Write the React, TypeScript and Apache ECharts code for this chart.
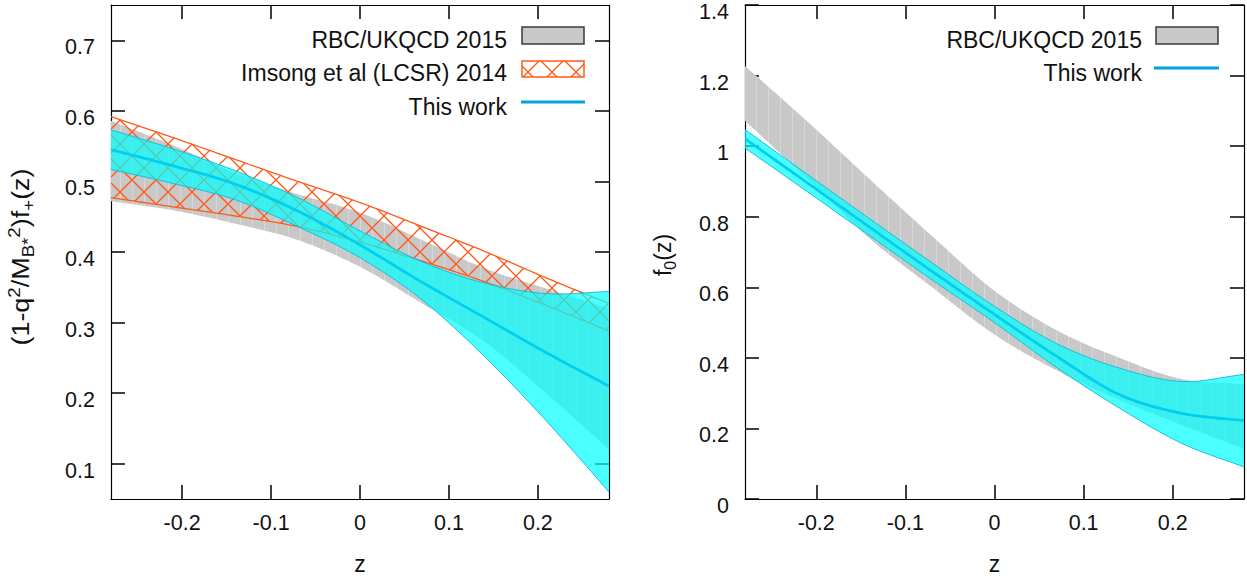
import React, { useEffect, useRef } from 'react';
import * as echarts from 'echarts';

// ---- data ----
const Z = [-0.28, -0.21, -0.14, -0.07, 0, 0.07, 0.14, 0.21, 0.28];

// Left panel: (1-q^2/M_B*^2) f+(z)
const L_RBC_LO = [0.472, 0.459, 0.44, 0.417, 0.379, 0.327, 0.273, 0.199, 0.12];
const L_RBC_HI = [0.586, 0.551, 0.512, 0.482, 0.456, 0.417, 0.377, 0.348, 0.32];
const L_LCSR_LO = [0.477, 0.464, 0.451, 0.436, 0.414, 0.387, 0.358, 0.324, 0.288];
const L_LCSR_HI = [0.592, 0.562, 0.531, 0.5, 0.47, 0.436, 0.401, 0.363, 0.327];
const L_TW_LO = [0.517, 0.497, 0.474, 0.436, 0.392, 0.332, 0.252, 0.16, 0.06];
const L_TW_MID = [0.545, 0.522, 0.496, 0.458, 0.41, 0.357, 0.307, 0.257, 0.21];
const L_TW_HI = [0.573, 0.546, 0.515, 0.477, 0.43, 0.386, 0.356, 0.341, 0.344];

// Right panel: f0(z)
const R_RBC_LO = [1.072, 0.907, 0.738, 0.6, 0.466, 0.364, 0.281, 0.21, 0.142];
const R_RBC_HI = [1.227, 1.07, 0.906, 0.745, 0.59, 0.478, 0.4, 0.34, 0.325];
const R_TW_LO = [0.995, 0.871, 0.746, 0.621, 0.5, 0.372, 0.258, 0.158, 0.091];
const R_TW_MID = [1.021, 0.896, 0.77, 0.645, 0.523, 0.404, 0.296, 0.243, 0.222];
const R_TW_HI = [1.047, 0.92, 0.794, 0.669, 0.546, 0.44, 0.371, 0.333, 0.353];

const X_TICKS = [-0.2, -0.1, 0, 0.1, 0.2];
const L_Y_TICKS = [0.1, 0.2, 0.3, 0.4, 0.5, 0.6, 0.7];
const R_Y_TICKS = [0, 0.2, 0.4, 0.6, 0.8, 1, 1.2, 1.4];

const LEGEND_RBC = 'RBC/UKQCD 2015';
const LEGEND_LCSR = 'Imsong et al (LCSR) 2014';
const LEGEND_TW = 'This work';

// ---- styles ----
const FONT = '"Liberation Sans", Arial, Helvetica, sans-serif';
const GRAY = '#C8C8C8';
const ORANGE = '#FF5A1A';
const CYAN_FILL = 'rgba(0,255,255,0.7)';
const CYAN_EDGE = '#14BEDF';
const CYAN_LINE = '#00D0F0';
const LEGEND_LINE = '#00A2DA';
const TEXT = '#111';

function makeHatch(size: number, color: string): string {
  const c = document.createElement('canvas');
  c.width = size;
  c.height = size;
  const ctx = c.getContext('2d')!;
  ctx.strokeStyle = color;
  ctx.lineWidth = 1.3;
  for (const k of [-size, 0, size]) {
    ctx.beginPath();
    ctx.moveTo(k, 0);
    ctx.lineTo(k + size, size);
    ctx.stroke();
    ctx.beginPath();
    ctx.moveTo(k + size, 0);
    ctx.lineTo(k, size);
    ctx.stroke();
  }
  return c.toDataURL();
}

function makeStripes(w: number, base: string, stripe: string): string {
  const c = document.createElement('canvas');
  c.width = w;
  c.height = 4;
  const ctx = c.getContext('2d')!;
  ctx.fillStyle = base;
  ctx.fillRect(0, 0, w, 4);
  ctx.fillStyle = stripe;
  ctx.fillRect(0, 0, 1, 4);
  return c.toDataURL();
}

// Smooth curve through pixel points (cubic Hermite with Catmull-Rom tangents), for drawing only.
function smoothPath(pts: number[][], steps = 14): number[][] {
  const n = pts.length;
  if (n < 3) return pts;
  const t: number[] = [];
  for (let i = 0; i < n; i++) {
    const a = pts[Math.max(0, i - 1)];
    const b = pts[Math.min(n - 1, i + 1)];
    t.push((b[1] - a[1]) / (b[0] - a[0]));
  }
  const out: number[][] = [];
  for (let i = 0; i < n - 1; i++) {
    const [x0, y0] = pts[i];
    const [x1, y1] = pts[i + 1];
    const h = x1 - x0;
    for (let s = 0; s < steps; s++) {
      const u = s / steps;
      const u2 = u * u;
      const u3 = u2 * u;
      const h00 = 2 * u3 - 3 * u2 + 1;
      const h10 = u3 - 2 * u2 + u;
      const h01 = -2 * u3 + 3 * u2;
      const h11 = u3 - u2;
      out.push([x0 + u * h, h00 * y0 + h10 * h * t[i] + h01 * y1 + h11 * h * t[i + 1]]);
    }
  }
  out.push(pts[n - 1]);
  return out;
}

function buildOption() {
  const HATCH = 24;
  const hatch = {
    image: makeHatch(HATCH, ORANGE),
    repeat: 'repeat',
    imageWidth: HATCH,
    imageHeight: HATCH,
  };
  const STRIPE = 12;
  const grayFill = {
    image: makeStripes(STRIPE, GRAY, '#D7D7D7'),
    repeat: 'repeat',
    imageWidth: STRIPE,
    imageHeight: 4,
  };

  function band(
    id: string,
    gi: number,
    lo: number[],
    hi: number[],
    fill: any,
    z: number,
    edge?: { color: string; width: number }
  ) {
    return {
      id,
      type: 'custom',
      coordinateSystem: 'cartesian2d',
      xAxisIndex: gi * 2,
      yAxisIndex: gi * 2,
      z,
      silent: true,
      clip: true,
      animation: false,
      encode: { x: 0, y: [1, 2] },
      data: Z.map((x, i) => [x, lo[i], hi[i]]),
      renderItem: (params: any, api: any) => {
        if (params.dataIndexInside !== 0) return null;
        const n = params.dataInsideLength;
        const top: number[][] = [];
        const bot: number[][] = [];
        for (let i = 0; i < n; i++) {
          const x = api.value(0, i);
          top.push(api.coord([x, api.value(2, i)]));
          bot.push(api.coord([x, api.value(1, i)]));
        }
        const st = smoothPath(top);
        const sb = smoothPath(bot);
        const poly = st.concat(sb.slice().reverse());
        const children: any[] = [
          { type: 'polygon', shape: { points: poly }, style: { fill, stroke: null } },
        ];
        if (edge) {
          children.push({
            type: 'polyline',
            shape: { points: st },
            style: { fill: null, stroke: edge.color, lineWidth: edge.width },
          });
          children.push({
            type: 'polyline',
            shape: { points: sb },
            style: { fill: null, stroke: edge.color, lineWidth: edge.width },
          });
        }
        return { type: 'group', children };
      },
    };
  }

  function midLine(id: string, gi: number, mid: number[]) {
    return {
      id,
      type: 'custom',
      coordinateSystem: 'cartesian2d',
      xAxisIndex: gi * 2,
      yAxisIndex: gi * 2,
      z: 6,
      silent: true,
      clip: true,
      animation: false,
      encode: { x: 0, y: 1 },
      data: Z.map((x, i) => [x, mid[i]]),
      renderItem: (params: any, api: any) => {
        if (params.dataIndexInside !== 0) return null;
        const n = params.dataInsideLength;
        const pts: number[][] = [];
        for (let i = 0; i < n; i++) pts.push(api.coord([api.value(0, i), api.value(1, i)]));
        return {
          type: 'polyline',
          shape: { points: smoothPath(pts) },
          style: { fill: null, stroke: CYAN_LINE, lineWidth: 2.8 },
        };
      },
    };
  }

  const tickStyle = { color: '#000', width: 1.5 };
  const lineStyle = { color: '#000', width: 1.2 };
  const labelBase = { fontSize: 21.5, fontFamily: FONT, color: TEXT };

  function xAxes(gi: number) {
    const base = {
      gridIndex: gi,
      type: 'value',
      min: -0.28,
      max: 0.28,
      splitLine: { show: false },
      axisLine: { show: true, onZero: false, lineStyle },
      axisTick: { show: true, inside: true, length: 14, customValues: X_TICKS, lineStyle: tickStyle },
    };
    return [
      {
        ...base,
        position: 'bottom',
        axisLabel: {
          ...labelBase,
          customValues: X_TICKS,
          margin: 13,
          formatter: (v: number) => String(v),
        },
        name: 'z',
        nameLocation: 'middle',
        nameGap: 53,
        nameTextStyle: { fontSize: 23, fontFamily: FONT, color: TEXT },
      },
      {
        ...base,
        position: 'top',
        axisLabel: { show: false },
      },
    ];
  }

  function yAxes(gi: number, min: number, max: number, ticks: number[]) {
    const base = {
      gridIndex: gi,
      type: 'value',
      min,
      max,
      splitLine: { show: false },
      axisLine: { show: true, onZero: false, lineStyle },
      axisTick: { show: true, inside: true, length: 14, customValues: ticks, lineStyle: tickStyle },
    };
    return [
      {
        ...base,
        position: 'left',
        axisLabel: {
          ...labelBase,
          customValues: ticks,
          margin: 16,
          verticalAlign: 'top',
          lineHeight: 14,
          formatter: (v: number) => String(v),
        },
      },
      {
        ...base,
        position: 'right',
        axisLabel: { show: false },
      },
    ];
  }

  const legendText = (x: number, y: number, text: string) => ({
    type: 'text',
    x,
    y,
    silent: true,
    style: {
      text,
      align: 'right',
      verticalAlign: 'middle',
      fontSize: 23,
      fontFamily: FONT,
      fill: TEXT,
    },
  });

  const graphic: any[] = [
    legendText(507, 40, LEGEND_RBC),
    {
      type: 'rect',
      silent: true,
      shape: { x: 522, y: 27, width: 62, height: 17 },
      style: { fill: GRAY, stroke: '#3a3a3a', lineWidth: 1.5 },
    },
    legendText(507, 73, LEGEND_LCSR),
    {
      type: 'rect',
      silent: true,
      shape: { x: 522, y: 61, width: 62, height: 16 },
      style: { fill: hatch, stroke: ORANGE, lineWidth: 1.5 },
    },
    legendText(507, 107, LEGEND_TW),
    {
      type: 'line',
      silent: true,
      shape: { x1: 521, y1: 102, x2: 585, y2: 102 },
      style: { stroke: LEGEND_LINE, lineWidth: 3 },
    },
    legendText(1142, 40, LEGEND_RBC),
    {
      type: 'rect',
      silent: true,
      shape: { x: 1156, y: 27, width: 62, height: 17 },
      style: { fill: GRAY, stroke: '#3a3a3a', lineWidth: 1.5 },
    },
    legendText(1142, 73, LEGEND_TW),
    {
      type: 'line',
      silent: true,
      shape: { x1: 1154, y1: 68, x2: 1219, y2: 68 },
      style: { stroke: LEGEND_LINE, lineWidth: 3 },
    },
    {
      type: 'text',
      x: 21,
      y: 257,
      rotation: Math.PI / 2,
      scaleX: 1.17,
      silent: true,
      style: {
        text: '{n|(1-q}{sp|2}{n|/M}{sb|B*}{sp|2}{n|)f}{sb|+}{n|(z)}',
        align: 'center',
        verticalAlign: 'middle',
        fill: TEXT,
        rich: {
          n: { fontSize: 23, fontFamily: FONT, fill: TEXT, lineHeight: 30, verticalAlign: 'middle' },
          sp: { fontSize: 16, fontFamily: FONT, fill: TEXT, verticalAlign: 'top' },
          sb: { fontSize: 16, fontFamily: FONT, fill: TEXT, verticalAlign: 'bottom' },
        },
      },
    },
    {
      type: 'text',
      x: 663,
      y: 255,
      rotation: Math.PI / 2,
      silent: true,
      style: {
        text: '{n|f}{sb|0}{n|(z)}',
        align: 'center',
        verticalAlign: 'middle',
        fill: TEXT,
        rich: {
          n: { fontSize: 23, fontFamily: FONT, fill: TEXT, lineHeight: 30, verticalAlign: 'middle' },
          sb: { fontSize: 16, fontFamily: FONT, fill: TEXT, verticalAlign: 'bottom' },
        },
      },
    },
  ];

  const series: any[] = [
    band('lrbc', 0, L_RBC_LO, L_RBC_HI, grayFill, 2),
    band('llcsr', 0, L_LCSR_LO, L_LCSR_HI, hatch, 3, { color: ORANGE, width: 1.3 }),
    band('ltw', 0, L_TW_LO, L_TW_HI, CYAN_FILL, 4, { color: CYAN_EDGE, width: 1 }),
    midLine('lmid', 0, L_TW_MID),
    band('rrbc', 1, R_RBC_LO, R_RBC_HI, grayFill, 2),
    band('rtw', 1, R_TW_LO, R_TW_HI, CYAN_FILL, 4, { color: CYAN_EDGE, width: 1 }),
    midLine('rmid', 1, R_TW_MID),
  ];

  return {
    animation: false,
    backgroundColor: '#fff',
    textStyle: { fontFamily: FONT },
    grid: [
      { left: 111, top: 5, width: 498, height: 499, containLabel: false },
      { left: 745, top: 5, width: 499, height: 499, containLabel: false },
    ],
    xAxis: [...xAxes(0), ...xAxes(1)],
    yAxis: [...yAxes(0, 0.05, 0.75, L_Y_TICKS), ...yAxes(1, 0, 1.4, R_Y_TICKS)],
    series,
    graphic,
  };
}

export default function App() {
  const ref = useRef<HTMLDivElement>(null);
  useEffect(() => {
    if (!ref.current) return;
    const chart = echarts.init(ref.current, undefined, { renderer: 'svg' });
    chart.setOption(buildOption() as any);
    return () => {
      chart.dispose();
    };
  }, []);
  return (
    <div
      ref={ref}
      style={{ position: 'absolute', left: 0, top: 0, width: 1247, height: 580, background: '#fff' }}
    />
  );
}
